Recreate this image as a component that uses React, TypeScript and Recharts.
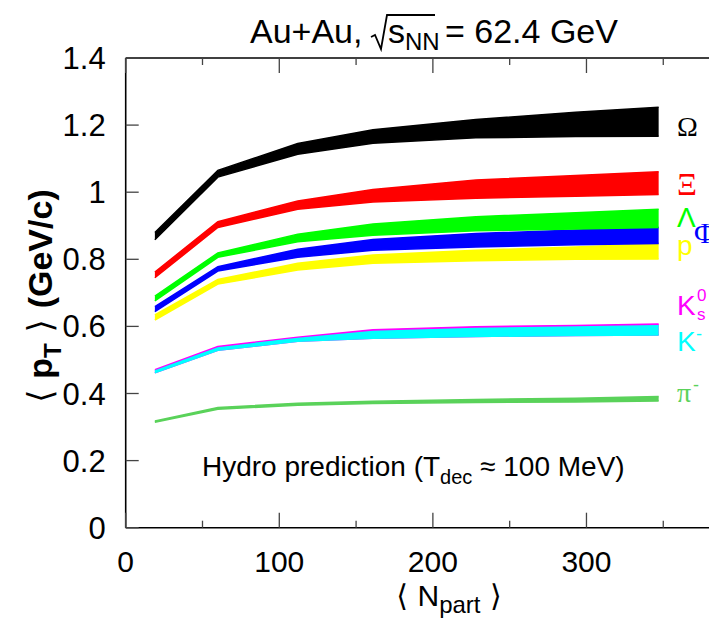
import React from "react";
import { ComposedChart, Area, XAxis, YAxis, ReferenceDot } from "recharts";

// ---- data ----
const npart = [19, 60, 112, 161, 228, 293, 347];

const omegaLow = [0.858, 1.045, 1.113, 1.146, 1.162, 1.166, 1.167];
const omegaHigh = [0.88, 1.065, 1.145, 1.186, 1.217, 1.238, 1.253];
const xiLow = [0.745, 0.895, 0.949, 0.971, 0.982, 0.988, 0.993];
const xiHigh = [0.762, 0.912, 0.974, 1.008, 1.036, 1.05, 1.061];
const lambdaLow = [0.676, 0.806, 0.852, 0.872, 0.885, 0.89, 0.895];
const lambdaHigh = [0.69, 0.819, 0.875, 0.905, 0.927, 0.939, 0.949];
const phiLow = [0.644, 0.765, 0.806, 0.827, 0.837, 0.843, 0.847];
const phiHigh = [0.659, 0.778, 0.83, 0.859, 0.877, 0.887, 0.895];
const protonLow = [0.619, 0.726, 0.768, 0.788, 0.796, 0.8, 0.801];
const protonHigh = [0.634, 0.74, 0.788, 0.813, 0.827, 0.837, 0.847];
const k0sLow = [0.462, 0.529, 0.556, 0.565, 0.57, 0.573, 0.574];
const k0sHigh = [0.471, 0.54, 0.568, 0.59, 0.599, 0.603, 0.607];
const kaonLow = [0.462, 0.529, 0.556, 0.565, 0.57, 0.573, 0.574];
const kaonHigh = [0.467, 0.536, 0.564, 0.585, 0.594, 0.598, 0.602];
const pionLow = [0.314, 0.353, 0.365, 0.37, 0.373, 0.375, 0.378];
const pionHigh = [0.318, 0.358, 0.371, 0.377, 0.382, 0.386, 0.391];

const xTicks = [0, 50, 100, 150, 200, 250, 300, 350];
const yTicks = [0, 0.2, 0.4, 0.6, 0.8, 1, 1.2, 1.4];
const yTickLabels = ["0", "0.2", "0.4", "0.6", "0.8", "1", "1.2", "1.4"];

const data = npart.map((n, i) => ({
  n,
  omega: [omegaLow[i], omegaHigh[i]],
  xi: [xiLow[i], xiHigh[i]],
  lambda: [lambdaLow[i], lambdaHigh[i]],
  phi: [phiLow[i], phiHigh[i]],
  proton: [protonLow[i], protonHigh[i]],
  k0s: [k0sLow[i], k0sHigh[i]],
  kaon: [kaonLow[i], kaonHigh[i]],
  pion: [pionLow[i], pionHigh[i]],
}));

const SANS = "'Liberation Sans', Arial, Helvetica, sans-serif";
const SERIF = "'Liberation Serif', 'DejaVu Serif', 'Times New Roman', serif";
const DEJA = "'DejaVu Sans', sans-serif";
const FS = 31;

// draw order: bottom first
const series = [
  { key: "pion", color: "#5ad25a" },
  { key: "k0s", color: "#ff00ff" },
  { key: "kaon", color: "#00ffff" },
  { key: "proton", color: "#ffff00" },
  { key: "phi", color: "#0000ff" },
  { key: "lambda", color: "#00ff00" },
  { key: "xi", color: "#ff0000" },
  { key: "omega", color: "#000000" },
];

const BottomTick = (props: any) => {
  const { x, y, payload } = props;
  const v = payload.value;
  const major = v % 100 === 0;
  return (
    <g>
      <line x1={x} x2={x} y1={y} y2={y - (major ? 15 : 7)} stroke="#444" strokeWidth={1.3} />
      {major && (
        <text x={x} y={y + 44} textAnchor="middle" fontSize={30} fontFamily={SANS} fill="#000">
          {v}
        </text>
      )}
    </g>
  );
};

const TopTick = (props: any) => {
  const { x, y, payload } = props;
  const major = payload.value % 100 === 0;
  return <line x1={x} x2={x} y1={y} y2={y + (major ? 15 : 7)} stroke="#444" strokeWidth={1.3} />;
};

const LeftTick = (props: any) => {
  const { x, y, payload } = props;
  const idx = yTicks.indexOf(payload.value);
  return (
    <g>
      <line x1={x} x2={x + 13} y1={y} y2={y} stroke="#444" strokeWidth={1.3} />
      <text x={x - 20} y={y + 11} textAnchor="end" fontSize={FS} fontFamily={SANS} fill="#000">
        {yTickLabels[idx]}
      </text>
    </g>
  );
};

const RightTick = (props: any) => {
  const { x, y } = props;
  return <line x1={x} x2={x - 13} y1={y} y2={y} stroke="#444" strokeWidth={1.3} />;
};

// species labels placed in data coordinates
const labelAnchors = [
  { id: "omega", x: 359, y: 1.168 },
  { id: "xi", x: 359, y: 0.993 },
  { id: "lambda", x: 359, y: 0.897 },
  { id: "phi", x: 370, y: 0.85 },
  { id: "proton", x: 359, y: 0.813 },
  { id: "k0s", x: 359, y: 0.634 },
  { id: "kaon", x: 359, y: 0.527 },
  { id: "pion", x: 359, y: 0.375 },
];

const renderSpecies = (id: string) => (props: any) => {
  const vb = props.viewBox || {};
  const x = (vb.x || 0) + (vb.width || 0) / 2;
  const y = (vb.y || 0) + (vb.height || 0) / 2;
  const fs = 28;
  switch (id) {
    case "omega":
      return <text x={x} y={y} fontSize={fs} fontFamily={SERIF} fill="#000">Ω</text>;
    case "xi":
      return <text x={x} y={y} fontSize={31} fontFamily={SERIF} fill="#ff0000">Ξ</text>;
    case "lambda":
      return <text x={x} y={y} fontSize={fs} fontFamily={SANS} fill="#00ff00">Λ</text>;
    case "phi":
      return <text x={x} y={y} fontSize={30} fontFamily={SERIF} fill="#0000ff">Φ</text>;
    case "proton":
      return <text x={x} y={y} fontSize={fs} fontFamily={SANS} fill="#ffff00">p</text>;
    case "k0s":
      return (
        <g>
          <text x={x} y={y} fontSize={fs} fontFamily={SANS} fill="#ff00ff">K</text>
          <text x={x + 20} y={y - 14} fontSize={17} fontFamily={SANS} fill="#ff00ff">0</text>
          <text x={x + 20} y={y + 5} fontSize={17} fontFamily={SANS} fill="#ff00ff">s</text>
        </g>
      );
    case "kaon":
      return (
        <g>
          <text x={x} y={y} fontSize={fs} fontFamily={SANS} fill="#00ffff">K</text>
          <text x={x + 19} y={y - 11} fontSize={18} fontFamily={SANS} fill="#00ffff">-</text>
        </g>
      );
    case "pion":
      return (
        <g>
          <text x={x} y={y} fontSize={fs} fontFamily={SERIF} fill="#5ad25a">π</text>
          <text x={x + 16} y={y - 11} fontSize={18} fontFamily={SANS} fill="#5ad25a">-</text>
        </g>
      );
    default:
      return null;
  }
};

const CW = 730;
const CH = 615;
const ML = 117.7;
const MT = 50;
const PW = 599;
const PH = 469.7;

export default function App() {
  return (
    <div style={{ position: "relative", width: 709, height: 620, overflow: "hidden", background: "#fff" }}>
      <ComposedChart
        width={CW}
        height={CH}
        data={data}
        margin={{ top: MT - 1, left: ML - 1, right: CW - ML - PW - 1, bottom: CH - MT - PH - 1 }}
      >
        <XAxis
          xAxisId="bottom"
          dataKey="n"
          type="number"
          domain={[0, 390]}
          ticks={xTicks}
          allowDataOverflow
          height={1}
          tickSize={0}
          tickMargin={0}
          tickLine={false}
          axisLine={{ stroke: "#000", strokeWidth: 1.6 }}
          tick={<BottomTick />}
          interval={0}
        />
        <XAxis
          xAxisId="top"
          orientation="top"
          dataKey="n"
          type="number"
          domain={[0, 390]}
          ticks={xTicks}
          allowDataOverflow
          height={1}
          tickSize={0}
          tickMargin={0}
          tickLine={false}
          axisLine={{ stroke: "#000", strokeWidth: 1.6 }}
          tick={<TopTick />}
          interval={0}
        />
        <YAxis
          yAxisId="left"
          type="number"
          domain={[0, 1.4]}
          ticks={yTicks}
          allowDataOverflow
          width={1}
          tickSize={0}
          tickMargin={0}
          tickLine={false}
          axisLine={{ stroke: "#000", strokeWidth: 1.6 }}
          tick={<LeftTick />}
          interval={0}
        />
        <YAxis
          yAxisId="right"
          orientation="right"
          type="number"
          domain={[0, 1.4]}
          ticks={yTicks}
          allowDataOverflow
          width={1}
          tickSize={0}
          tickMargin={0}
          tickLine={false}
          axisLine={{ stroke: "#000", strokeWidth: 1.6 }}
          tick={<RightTick />}
          interval={0}
        />
        {series.map((s) => (
          <Area
            key={s.key}
            xAxisId="bottom"
            yAxisId="left"
            dataKey={s.key}
            type="linear"
            stroke={s.color}
            strokeWidth={1.5}
            fill={s.color}
            fillOpacity={1}
            dot={false}
            activeDot={false}
            isAnimationActive={false}
          />
        ))}
        {labelAnchors.map((l) => (
          <ReferenceDot
            key={l.id}
            xAxisId="bottom"
            yAxisId="left"
            x={l.x}
            y={l.y}
            r={0}
            fill="none"
            stroke="none"
            label={renderSpecies(l.id)}
          />
        ))}
      </ComposedChart>
      <svg
        width={709}
        height={620}
        style={{ position: "absolute", left: 0, top: 0, pointerEvents: "none" }}
      >
        <text x={242} y={35} fontSize={34} fontFamily={SANS} fill="#000">Au+Au,</text>
        <path d="M363,29 L367,27 L373,41 L379,7 L427,7" stroke="#000" strokeWidth={1.8} fill="none" />
        <text x={380} y={35} fontSize={34} fontFamily={SANS} fill="#000">s</text>
        <text x={397} y={42} fontSize={24} fontFamily={SANS} fill="#000">NN</text>
        <text x={437} y={35} fontSize={34} fontFamily={SANS} fill="#000">= 62.4 GeV</text>
        <text
          x={44}
          y={288}
          fontSize={34}
          fontFamily={SANS}
          fill="#000"
          textAnchor="middle"
          transform="rotate(-90 44 288)"
        >
          <tspan fontFamily={DEJA}>⟨ </tspan>
          <tspan fontWeight="bold">p</tspan>
          <tspan fontWeight="bold" dy={9} fontSize={24}>T</tspan>
          <tspan dy={-9} fontFamily={DEJA}> ⟩ </tspan>
          <tspan fontWeight="bold">(GeV/c)</tspan>
        </text>
        <text x={441} y={598} fontSize={30} fontFamily={SANS} fill="#000" textAnchor="middle">
          <tspan fontFamily={DEJA}>⟨ </tspan>
          N<tspan dy={7} fontSize={24}>part</tspan>
          <tspan dy={-7} fontFamily={DEJA}> ⟩</tspan>
        </text>
        <text x={194} y={468} fontSize={28} fontFamily={SANS} fill="#000">
          Hydro prediction (T<tspan dy={8} fontSize={20}>dec</tspan>
          <tspan dy={-8}> ≈ 100 MeV)</tspan>
        </text>
      </svg>
    </div>
  );
}
